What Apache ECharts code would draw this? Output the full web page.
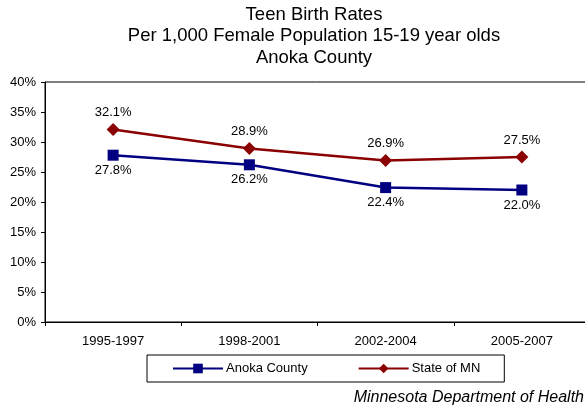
<!DOCTYPE html>
<html><head><meta charset="utf-8">
<script src="https://cdn.jsdelivr.net/npm/echarts@6/dist/echarts.min.js"></script>
<style>html,body{margin:0;padding:0;background:#fff}#c{width:585px;height:410px}</style>
</head><body><div id="c"></div>
<script>
const categories = ['1995-1997', '1998-2001', '2002-2004', '2005-2007'];
const anokaCounty = [27.8, 26.2, 22.4, 22.0];
const stateOfMN = [32.1, 28.9, 26.9, 27.5];
const titleLines = ['Teen Birth Rates', 'Per 1,000 Female Population 15-19 year olds', 'Anoka County'];
const sourceText = 'Minnesota Department of Health';

const FONT = '"Liberation Sans", Arial, sans-serif';
const chart = echarts.init(document.getElementById('c'));
chart.setOption({
  animation: false,
  backgroundColor: '#fff',
  textStyle: { fontFamily: FONT },
  graphic: [
    { type: 'text', x: 314, y: 4, style: { text: titleLines.join('\n'), font: '18.5px ' + FONT, fill: '#000', align: 'center', verticalAlign: 'top', lineHeight: 21.5 } },
    { type: 'text', x: 584, y: 398, style: { text: sourceText, font: 'italic 16px ' + FONT, fill: '#000', align: 'right', verticalAlign: 'middle' } }
  ],
  grid: { left: 45, right: -5, top: 82, bottom: 88, show: true, borderColor: '#000', borderWidth: 1, backgroundColor: 'transparent', outerBoundsMode: 'none', containLabel: false },
  legend: {
    left: 147, top: 355, orient: 'horizontal',
    borderColor: '#000', borderWidth: 1, padding: [7, 24, 7, 25],
    itemGap: 50, itemWidth: 50, itemHeight: 12,
    textStyle: { fontSize: 13, color: '#000', fontFamily: FONT, padding: [0, 0, 0, -2] },
    data: ['Anoka County', 'State of MN']
  },
  xAxis: {
    type: 'category', data: categories, boundaryGap: true,
    axisLine: { lineStyle: { color: '#000', width: 1 } },
    axisTick: { show: true, length: 4, interval: 0, lineStyle: { color: '#000' } },
    axisLabel: { fontSize: 13, color: '#000', margin: 13, fontFamily: FONT },
    splitLine: { show: false }
  },
  yAxis: {
    type: 'value', min: 0, max: 40, interval: 5,
    axisLine: { show: true, lineStyle: { color: '#000', width: 1 } },
    axisTick: { show: true, length: 4, lineStyle: { color: '#000' } },
    axisLabel: { fontSize: 13, color: '#000', margin: 9, formatter: '{value}%', fontFamily: FONT },
    splitLine: { show: false }
  },
  series: [
    {
      name: 'Anoka County', type: 'line', data: anokaCounty,
      symbol: 'rect', symbolSize: 11,
      lineStyle: { color: '#000080', width: 2.5 },
      itemStyle: { color: '#000080' },
      label: { show: true, position: 'bottom', distance: 3, fontSize: 13, color: '#000', fontFamily: FONT, formatter: p => p.value.toFixed(1) + '%' }
    },
    {
      name: 'State of MN', type: 'line', data: stateOfMN,
      symbol: 'diamond', symbolSize: 13,
      lineStyle: { color: '#8B0000', width: 2.5 },
      itemStyle: { color: '#8B0000' },
      label: { show: true, position: 'top', distance: 4, fontSize: 13, color: '#000', fontFamily: FONT, formatter: p => p.value.toFixed(1) + '%' }
    }
  ]
});
</script></body></html>
